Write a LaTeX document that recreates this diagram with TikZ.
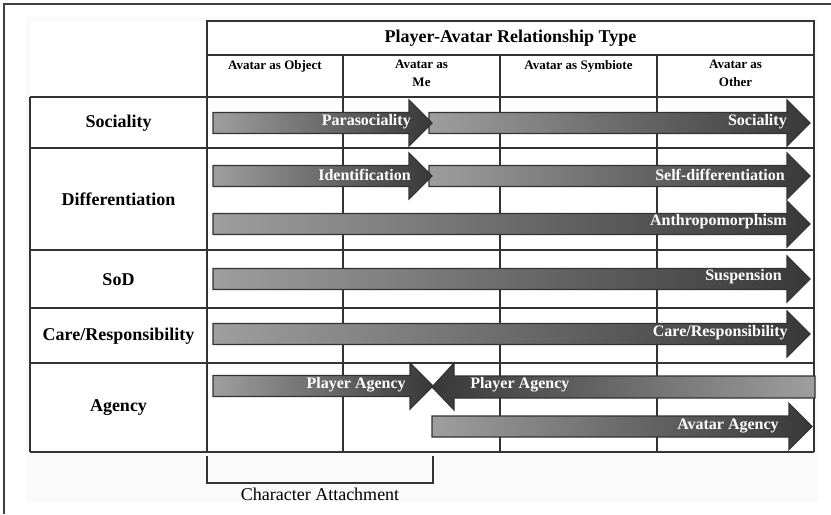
\documentclass[tikz,border=0pt]{standalone}
\usepackage{fontspec}
\setmainfont{Liberation Serif}
\usepackage{tikz}

\tikzset{
  gridline/.style={draw={rgb,255:red,51;green,51;blue,51},line width=1pt},
  barrow/.style={left color=black!38,right color=black!78,draw=black!80,line width=0.8pt},
  barrowrev/.style={left color=black!78,right color=black!38,draw=black!80,line width=0.8pt},
  arrowlabel/.style={text=white,font=\fontsize{12}{14}\selectfont\bfseries,inner sep=0.75pt},
  rowlabel/.style={font=\fontsize{13.5}{16}\selectfont\bfseries,inner sep=0.75pt},
  collabel/.style={font=\fontsize{9.75}{13.5}\selectfont\bfseries,align=center,inner sep=0.75pt}
}

% right pointing block arrow: shaft from #1 to #2, centre line #3
\newcommand{\fwdarrow}[3]{%
  \shade[barrow] (#1,{#3-10.5}) -- (#2,{#3-10.5}) -- (#2,{#3-23}) -- ({#2+23},#3)
    -- (#2,{#3+23}) -- (#2,{#3+10.5}) -- (#1,{#3+10.5}) -- cycle;}

\begin{document}
\begin{tikzpicture}[x=0.75pt,y=0.75pt,yscale=-1,xscale=1]
\useasboundingbox (0,0) rectangle (831,514);

%Frame
\draw [line width=1.2pt,color=black!75] (4,514) -- (4,4) -- (831,4) ;
\fill [color=black!2] (26,17) rectangle (818,502) ;
\fill [white] (30,21) rectangle (814,452) ;

%Header box
\draw [gridline] (207,21) rectangle (814,55) ;
\draw [gridline] (207,55) -- (207,452) ;
\draw [gridline] (207,97) -- (814,97) ;
\draw [gridline] (814,55) -- (814,452) ;
%Column lines
\foreach \cx in {343,500,657} {
  \draw [gridline] (\cx,55) -- (\cx,452) ;
}
%Row lines
\draw [gridline] (30,97) -- (30,452) ;
\foreach \ry in {97,148,250,308,363,452} {
  \draw [gridline] (30,\ry) -- (814,\ry) ;
}

% Text Node
\draw (510.5,38) node [font=\fontsize{13.5}{16}\selectfont\bfseries] (title) {Player-Avatar Relationship Type};
\draw (275,59) node [collabel,anchor=north] (colobj) {Avatar as Object};
\draw (421.5,59) node [collabel,anchor=north] (colme) {Avatar as\\Me};
\draw (578.5,59) node [collabel,anchor=north] (colsym) {Avatar as Symbiote};
\draw (735.5,59) node [collabel,anchor=north] (colother) {Avatar as\\Other};

\draw (118.5,123.5) node [rowlabel] (rsoc) {Sociality};
\draw (118.5,199) node [rowlabel] (rdiff) {Differentiation};
\draw (118.5,279.5) node [rowlabel] (rsod) {SoD};
\draw (118.5,336) node [rowlabel] (rcare) {Care/Responsibility};
\draw (118.5,408) node [rowlabel] (ragency) {Agency};

%Sociality arrows
\fwdarrow{429}{787}{123}
\fwdarrow{213}{409}{123}
\draw (412,122) node [arrowlabel,anchor=east] (parasoc) {Parasociality};
\draw (788,122) node [arrowlabel,anchor=east] (soc) {Sociality};

%Differentiation arrows
\fwdarrow{429}{787}{176}
\fwdarrow{213}{409}{176}
\draw (412,175) node [arrowlabel,anchor=east] (ident) {Identification};
\draw (786,175) node [arrowlabel,anchor=east] (selfdiff) {Self-differentiation};
\fwdarrow{213}{787}{224}
\draw (788,222) node [arrowlabel,anchor=east] (anthro) {Anthropomorphism};

%SoD arrow
\fwdarrow{213}{787}{279}
\draw (783,277) node [arrowlabel,anchor=east] (susp) {Suspension};

%Care arrow
\fwdarrow{213}{787}{334}
\draw (789,333) node [arrowlabel,anchor=east] (care) {Care/Responsibility};

%Agency arrows
\fwdarrow{213}{410}{386}
\shade [barrowrev] (815,376) -- (454,376) -- (454,363) -- (432,387) -- (454,410)
  -- (454,398) -- (815,398) -- cycle ;
\draw (407,385) node [arrowlabel,anchor=east] (pagencyl) {Player Agency};
\draw (469,385) node [arrowlabel,anchor=west] (pagencyr) {Player Agency};
\fwdarrow{432}{789}{426.5}
\draw (780,426) node [arrowlabel,anchor=east] (aagency) {Avatar Agency};

%Bracket
\coordinate (bl) at (207,456);
\coordinate (br) at (433,456);
\draw [color=black!80,line width=0.8pt] (bl) -- (207,483) -- (433,483) -- (br) ;
\draw (320,494) node [font=\fontsize{13.5}{16}\selectfont] (attach) {Character Attachment};

\end{tikzpicture}
\end{document}
